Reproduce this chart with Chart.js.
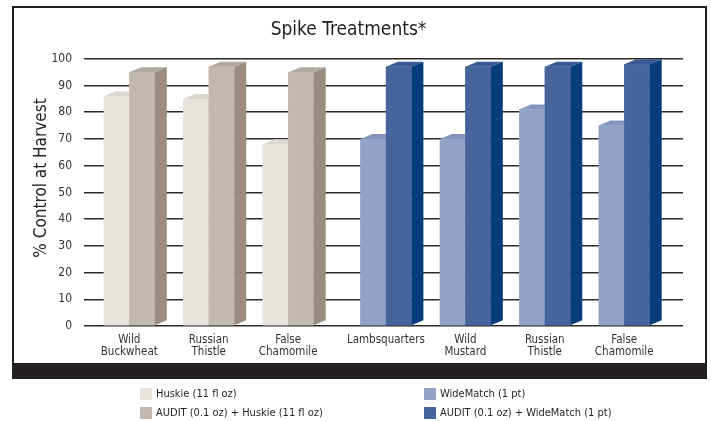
<!DOCTYPE html>
<html>
<head>
<meta charset="utf-8">
<script src="https://cdn.jsdelivr.net/npm/chart.js@4.4.1/dist/chart.umd.min.js"></script>
<style>
  html, body { margin: 0; padding: 0; background: #fff; }
  #wrap { position: relative; width: 711px; height: 421px; }
  #leyenda { position: absolute; left: 0; top: 0; width: 711px; height: 421px; pointer-events: none;
    font: 11px "Liberation Sans Narrow", "DejaVu Sans Condensed", sans-serif; color: #231f20; }
  .item { position: absolute; display: flex; align-items: center; height: 13px; white-space: nowrap; }
  .item .caja { width: 12px; height: 12px; margin-right: 4px; }
</style>
</head>
<body>
<div id="wrap">
  <canvas id="grafico" width="711" height="421"></canvas>
  <div id="leyenda"></div>
</div>
<script>
const fuente = '"Liberation Sans Narrow", "DejaVu Sans Condensed", sans-serif';

// datos
const categorias = [
  ["Wild", "Buckwheat"], ["Russian", "Thistle"], ["False", "Chamomile"],
  "Lambsquarters", ["Wild", "Mustard"], ["Russian", "Thistle"], ["False", "Chamomile"]
];
const huskie = [86, 85, 68, null, null, null, null];
const auditHuskie = [95, 97, 95, null, null, null, null];
const wideMatch = [null, null, null, 70, 70, 81, 75];
const auditWideMatch = [null, null, null, 97, 97, 97, 98];
const nombres = [
  "Huskie (11 fl oz)", "AUDIT (0.1 oz) + Huskie (11 fl oz)",
  "WideMatch (1 pt)", "AUDIT (0.1 oz) + WideMatch (1 pt)"
];

// separación extra entre los dos grupos (en unidades de categoría)
const separacion = 0.23;
const posiciones = categorias.map((c, i) => i + (i >= 3 ? separacion : 0));

// marco y barra negra inferior
const marco = {
  id: "marco",
  beforeDraw(chart) {
    const ctx = chart.ctx;
    ctx.save();
    ctx.fillStyle = "#fff";
    ctx.fillRect(0, 0, chart.width, chart.height);
    ctx.strokeStyle = "#231f20";
    ctx.lineWidth = 2;
    ctx.strokeRect(13, 7, 693, 364);
    ctx.fillStyle = "#231f20";
    ctx.fillRect(12, 363, 695, 16);
    ctx.restore();
  },
  afterDraw(chart) {
    // título del eje y
    const ctx = chart.ctx;
    ctx.save();
    ctx.translate(42, 178);
    ctx.rotate(-Math.PI / 2);
    ctx.font = "17px " + fuente;
    ctx.fillStyle = "#231f20";
    ctx.textAlign = "center";
    ctx.textBaseline = "middle";
    ctx.fillText("% Control at Harvest", 0, 0);
    ctx.restore();
  }
};

// caras laterales y superiores de las barras
const barras3d = {
  id: "barras3d",
  afterDatasetsDraw(chart) {
    const ctx = chart.ctx;
    const dx = 12, dy = 5;
    chart.data.labels.forEach((_, j) => {
      chart.data.datasets.forEach((ds, i) => {
        const el = chart.getDatasetMeta(i).data[j];
        if (!el || ds.data[j] == null) return;
        const { x, y, base, width } = el.getProps(["x", "y", "base", "width"], true);
        const l = x - width / 2, r = x + width / 2;
        el.draw(ctx);
        ctx.save();
        ctx.fillStyle = ds.colorSup;
        ctx.beginPath();
        ctx.moveTo(l, y); ctx.lineTo(r, y); ctx.lineTo(r + dx, y - dy); ctx.lineTo(l + dx, y - dy);
        ctx.closePath(); ctx.fill();
        ctx.fillStyle = ds.colorLado;
        ctx.beginPath();
        ctx.moveTo(r, y); ctx.lineTo(r + dx, y - dy); ctx.lineTo(r + dx, base - dy); ctx.lineTo(r, base);
        ctx.closePath(); ctx.fill();
        ctx.restore();
      });
    });
  }
};

const comun = { borderWidth: 0, skipNull: true, barPercentage: 1, categoryPercentage: 0.642 };

const grafico = new Chart(document.getElementById("grafico").getContext("2d"), {
  type: "bar",
  data: {
    labels: posiciones,
    datasets: [
      { label: nombres[0], data: huskie, backgroundColor: "#e8e4dd", colorSup: "#dcd7cf", colorLado: "#c9c2b8", ...comun },
      { label: nombres[1], data: auditHuskie, backgroundColor: "#c1b9af", colorSup: "#b3aa9f", colorLado: "#9a8d7f", ...comun },
      { label: nombres[2], data: wideMatch, backgroundColor: "#93a3c8", colorSup: "#8394bd", colorLado: "#6d80ad", ...comun },
      { label: nombres[3], data: auditWideMatch, backgroundColor: "#46659c", colorSup: "#3a5993", colorLado: "#073d7c", ...comun }
    ]
  },
  options: {
    responsive: false,
    animation: false,
    layout: { padding: { left: 14, right: 28, top: 0, bottom: 60 } },
    plugins: {
      legend: { display: false },
      tooltip: { enabled: false },
      title: {
        display: true,
        text: "Spike Treatments*",
        color: "#231f20",
        font: { family: fuente, size: 19, weight: "normal" },
        padding: { top: 19, bottom: 17 }
      }
    },
    scales: {
      x: {
        type: "linear",
        offset: false,
        min: -0.57,
        max: 6.97,
        grid: { display: false, offset: false },
        border: { display: false },
        afterBuildTicks: (scale) => { scale.ticks = posiciones.map((v) => ({ value: v })); },
        afterFit: (scale) => { scale.height = 35; },
        ticks: {
          autoSkip: false,
          maxRotation: 0,
          padding: 0,
          color: "#333",
          font: { family: fuente, size: 11.5, lineHeight: 1.05 },
          callback: (v, i) => categorias[i]
        }
      },
      y: {
        min: 0,
        max: 100,
        grid: { color: "#2a2a2a", lineWidth: 1.5, drawTicks: false },
        border: { display: false },
        afterFit: (scale) => { scale.width = 70; },
        ticks: {
          stepSize: 10,
          padding: 12,
          color: "#333",
          font: { family: fuente, size: 12 }
        }
      }
    }
  },
  plugins: [marco, barras3d]
});

// leyenda en HTML
const leyenda = document.getElementById("leyenda");
const sitios = [[140, 387], [140, 406], [424, 387], [424, 406]];
grafico.data.datasets.forEach((ds, i) => {
  const item = document.createElement("div");
  item.className = "item";
  item.style.left = sitios[i][0] + "px";
  item.style.top = sitios[i][1] + "px";
  const caja = document.createElement("span");
  caja.className = "caja";
  caja.style.background = ds.backgroundColor;
  item.appendChild(caja);
  item.appendChild(document.createTextNode(ds.label));
  leyenda.appendChild(item);
});
</script>
</body>
</html>
